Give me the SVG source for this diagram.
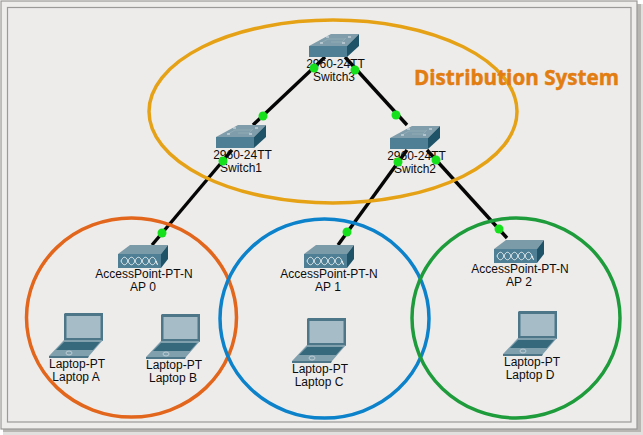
<svg xmlns="http://www.w3.org/2000/svg" width="643" height="435" viewBox="0 0 643 435">
<style>
.lbl{font-family:"Liberation Sans",Arial,sans-serif;font-size:12px;fill:#0c0c0c;text-anchor:middle}
.ring{fill:none;stroke-width:3.5}
.link{stroke:#050505;stroke-width:3.4;fill:none}
.dot{fill:#16e01c}
</style>
<defs>
<g id="switch">
<polygon points="0,0 22,-12 50,-12 38,0" fill="#7f9daa"/>
<path d="M12,-3L19,-7H36M22,-4H33L37,-8" stroke="#95aeb9" stroke-width="0.8" fill="none"/>
<path d="M11,-3h3M17,-9h3M33,-3h3M39,-9h3" stroke="#e4ecef" stroke-width="1.2" fill="none"/>
<rect x="0" y="0" width="38" height="11" fill="#4e7f94"/>
<polygon points="38,0 50,-12 50,0 38,11" fill="#1f5468"/>
</g>
<g id="ap">
<polygon points="0,0 12,-9 50,-9 43,0" fill="#7b9ba9"/>
<rect x="0" y="0" width="43" height="14" fill="#4e7f94"/>
<polygon points="43,0 50,-9 50,5 43,14" fill="#1f5468"/>
<path d="M3,7c2,-5 5,-5 7,0s5,5 7,0s5,-5 7,0s5,5 7,0s5,-5 7,0s2,5 0,0c-2,5 -5,5 -7,0s-5,-5 -7,0s-5,5 -7,0s-5,-5 -7,0s-5,5 -7,0" fill="none" stroke="#e6eef1" stroke-width="1"/>
</g>
<g id="laptop">
<path d="M1,0H39V28H0V1Z" fill="#4d7789"/>
<rect x="2.500" y="3" width="34" height="22" fill="#a6bdc8"/>
<polygon points="0,27 39,27 25,43 -15,43" fill="#80a0ae"/>
<polygon points="0,29 36,29 29,37 -8,37" fill="#37697d"/>
<polygon points="-15,43 25,43 24,45 -15,45" fill="#4d7789"/>
<ellipse cx="5" cy="40" rx="3" ry="2" fill="none" stroke="#c9d7dc" stroke-width="0.8"/>
</g>
</defs>
<rect width="643" height="435" fill="#ffffff"/>
<rect x="3" y="4" width="640" height="431" fill="#e2e0de"/>
<rect x="3" y="4" width="638" height="428" fill="#b8b6b3"/>
<rect x="1" y="1" width="636" height="428" fill="#efedeb" stroke="#9a9896" stroke-width="1.200"/>
<rect x="7.500" y="7.500" width="623.500" height="414.500" fill="#eeeceb" stroke="#9b9a98" stroke-width="1.200"/>
<g id="connectors">
<path class="link" d="M325,57L253,125"/>
<path class="link" d="M345,57L407,125"/>
<path class="link" d="M232,150L152,245"/>
<path class="link" d="M407,150L338,245"/>
<path class="link" d="M427,150L507,238"/>
</g>
<g id="rings">
<ellipse class="ring" cx="333" cy="111.500" rx="184" ry="91.500" stroke="#e6a216"/>
<ellipse class="ring" cx="131.500" cy="317.500" rx="105" ry="99.500" stroke="#e2661c"/>
<ellipse class="ring" cx="324.500" cy="318.500" rx="104.500" ry="99.500" stroke="#0c82cb"/>
<ellipse class="ring" cx="516" cy="318" rx="104" ry="100" stroke="#1e9c3c"/>
</g>
<g id="title"><text x="414" y="85" font-family="'Open Sans','Liberation Sans',sans-serif" font-weight="700" font-size="22px" fill="#e27d11" stroke="#e27d11" stroke-width="0.5" textLength="205" lengthAdjust="spacingAndGlyphs">Distribution System</text></g>
<g id="Switch3"><use href="#switch" x="309" y="46"/><text class="lbl" x="335.500" y="68">2960-24TT</text><text class="lbl" x="334" y="81">Switch3</text></g>
<g id="Switch1"><use href="#switch" x="216" y="137"/><text class="lbl" x="242.500" y="159">2960-24TT</text><text class="lbl" x="241" y="172">Switch1</text></g>
<g id="Switch2"><use href="#switch" x="390" y="138"/><text class="lbl" x="416.500" y="160">2960-24TT</text><text class="lbl" x="415" y="173">Switch2</text></g>
<g id="AP0"><use href="#ap" x="118" y="254"/><text class="lbl" x="144" y="278">AccessPoint-PT-N</text><text class="lbl" x="143" y="291">AP 0</text></g>
<g id="AP1"><use href="#ap" x="304" y="254"/><text class="lbl" x="329" y="278">AccessPoint-PT-N</text><text class="lbl" x="328" y="291">AP 1</text></g>
<g id="AP2"><use href="#ap" x="494" y="249"/><text class="lbl" x="520" y="273">AccessPoint-PT-N</text><text class="lbl" x="519" y="286">AP 2</text></g>
<g id="LaptopA"><use href="#laptop" x="64" y="313"/><text class="lbl" x="77" y="368">Laptop-PT</text><text class="lbl" x="76" y="381">Laptop A</text></g>
<g id="LaptopB"><use href="#laptop" x="161" y="314"/><text class="lbl" x="174" y="369">Laptop-PT</text><text class="lbl" x="173" y="382">Laptop B</text></g>
<g id="LaptopC"><use href="#laptop" x="307" y="318"/><text class="lbl" x="320" y="373">Laptop-PT</text><text class="lbl" x="319" y="386">Laptop C</text></g>
<g id="LaptopD"><use href="#laptop" x="518" y="311"/><text class="lbl" x="532" y="366">Laptop-PT</text><text class="lbl" x="530" y="379">Laptop D</text></g>
<g id="link-lights">
<circle class="dot" cx="314" cy="68" r="4.500"/><circle class="dot" cx="355" cy="70" r="4.500"/>
<circle class="dot" cx="263" cy="116" r="4.500"/><circle class="dot" cx="396" cy="115" r="4.500"/>
<circle class="dot" cx="223" cy="161" r="4.500"/><circle class="dot" cx="398" cy="162" r="4.500"/><circle class="dot" cx="436" cy="160" r="4.500"/>
<circle class="dot" cx="162" cy="233" r="4.500"/><circle class="dot" cx="347" cy="232" r="4.500"/><circle class="dot" cx="499" cy="229" r="4.500"/>
</g>
</svg>
